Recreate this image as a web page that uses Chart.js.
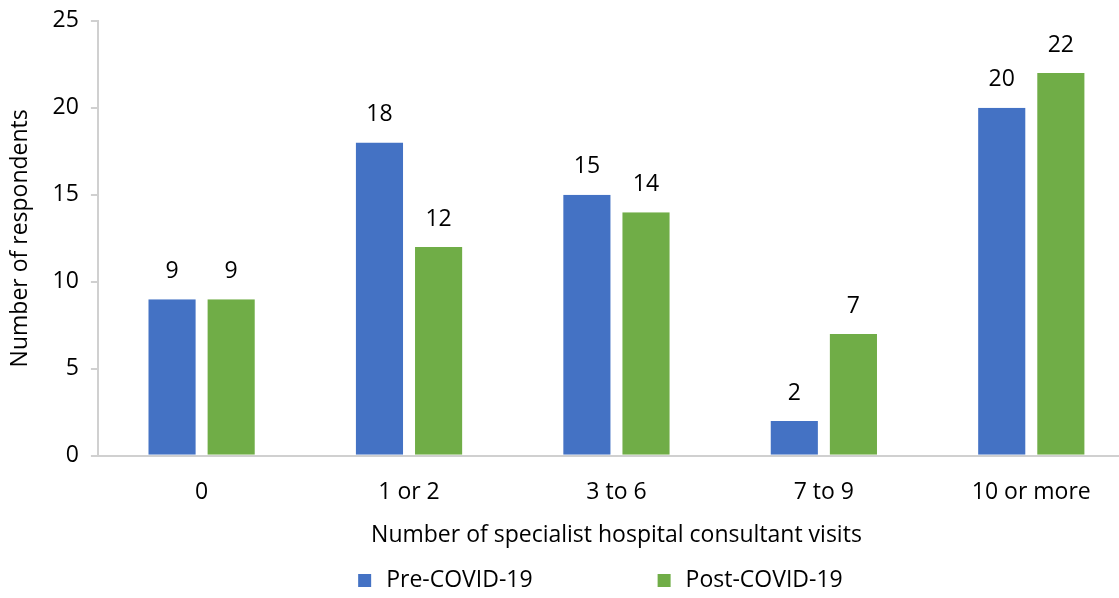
<!DOCTYPE html>
<html>
<head>
<meta charset="utf-8">
<script src="https://cdn.jsdelivr.net/npm/chart.js@4.4.1/dist/chart.umd.min.js"></script>
<style>
  html, body { margin: 0; padding: 0; background: #fff; overflow: hidden; }
  #wrap { width: 1135px; height: 603px; margin-top: -5px; }
</style>
</head>
<body>
<div id="wrap"><canvas id="chart"></canvas></div>
<script>
const categories = ['0', '1 or 2', '3 to 6', '7 to 9', '10 or more'];
const preCovid = [9, 18, 15, 2, 20];
const postCovid = [9, 12, 14, 7, 22];
const yTicks = [0, 5, 10, 15, 20, 25];

const FONT = '"Open Sans", Lato, sans-serif';
const FS = 23;

// numbers above each bar
const barLabels = {
    id: 'barLabels',
    afterDatasetsDraw(chart) {
        const ctx = chart.ctx;
        ctx.save();
        ctx.fillStyle = '#000';
        ctx.font = FS + 'px ' + FONT;
        ctx.textAlign = 'center';
        ctx.textBaseline = 'middle';
        chart.data.datasets.forEach((ds, i) => {
            chart.getDatasetMeta(i).data.forEach((bar, j) => {
                ctx.fillText(ds.data[j], bar.x, bar.y - 28);
            });
        });
        ctx.restore();
    }
};

// legend under the axis title
const bottomLegend = {
    id: 'bottomLegend',
    afterDraw(chart) {
        const ctx = chart.ctx;
        const area = chart.chartArea;
        const y = 585;
        ctx.save();
        ctx.font = FS + 'px ' + FONT;
        ctx.textBaseline = 'middle';
        const gap = 125;
        const items = chart.data.datasets.map(ds => ({
            text: ds.label, color: ds.backgroundColor,
            w: 13 + 15 + ctx.measureText(ds.label).width
        }));
        const total = items.reduce((s, it) => s + it.w, 0) + gap * (items.length - 1);
        let x = (area.left + area.right) / 2 - 16 - total / 2;
        items.forEach(it => {
            ctx.fillStyle = it.color;
            ctx.fillRect(x, y - 6, 13, 13);
            ctx.fillStyle = '#000';
            ctx.fillText(it.text, x + 28, y);
            x += it.w + gap;
        });
        ctx.restore();
    }
};

new Chart(document.getElementById('chart'), {
    type: 'bar',
    data: {
        labels: categories,
        datasets: [{
            label: 'Pre-COVID-19',
            data: preCovid,
            backgroundColor: '#4472C4',
            borderColor: '#ffffff',
            borderWidth: {left: 6, right: 6, top: 0, bottom: 0},
            borderSkipped: false
        }, {
            label: 'Post-COVID-19',
            data: postCovid,
            backgroundColor: '#70AD47',
            borderColor: '#ffffff',
            borderWidth: {left: 6, right: 6, top: 0, bottom: 0},
            borderSkipped: false
        }]
    },
    options: {
        responsive: true,
        maintainAspectRatio: false,
        animation: false,
        categoryPercentage: 0.57,
        barPercentage: 1,
        layout: {
            padding: {top: 0, right: 0, bottom: 49, left: 7}
        },
        plugins: {
            legend: { display: false },
            tooltip: { enabled: false }
        },
        scales: {
            x: {
                grid: { display: false },
                border: { display: true, color: '#d0d0d0', width: 2 },
                ticks: { color: '#000', font: { family: FONT, size: FS }, padding: 15 },
                title: {
                    display: true,
                    text: 'Number of specialist hospital consultant visits',
                    color: '#000',
                    font: { family: FONT, size: FS },
                    padding: { top: 0, bottom: 0 }
                }
            },
            y: {
                min: 0,
                max: 25,
                afterBuildTicks(axis) { axis.ticks = yTicks.map(v => ({value: v})); },
                grid: { display: true, drawOnChartArea: false, tickLength: 7, color: '#d0d0d0', lineWidth: 2 },
                border: { display: true, color: '#d0d0d0', width: 2 },
                ticks: { color: '#000', font: { family: FONT, size: FS }, padding: 12 },
                title: {
                    display: true,
                    text: 'Number of respondents',
                    color: '#000',
                    font: { family: FONT, size: FS },
                    padding: { top: 0, bottom: 6 }
                }
            }
        }
    },
    plugins: [barLabels, bottomLegend]
});
</script>
</body>
</html>
